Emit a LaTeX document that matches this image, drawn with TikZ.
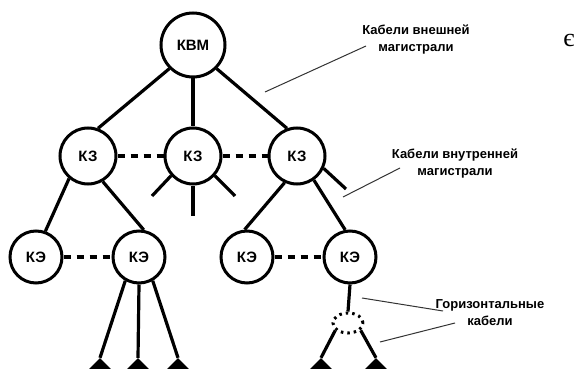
\documentclass[tikz,border=0pt]{standalone}
\usepackage{fontspec}
\setmainfont{Liberation Sans}
\newfontfamily\serifcyr{Liberation Serif}
\usetikzlibrary{shapes.geometric}
\begin{document}
\begin{tikzpicture}[x=1pt,y=-1pt,
  hub/.style={circle,draw,line width=3pt,fill=white,inner sep=0pt,font=\fontsize{15}{15}\selectfont\bfseries},
  bighub/.style={hub,minimum size=64pt},
  midhub/.style={hub,minimum size=56pt},
  lowhub/.style={hub,minimum size=52pt},
  cable/.style={line width=3.2pt},
  link/.style={line width=4.5pt,dash pattern=on 7pt off 6pt},
  leader/.style={line width=1pt,black!80},
  outlet/.style={diamond,fill=black,inner sep=0pt,minimum size=28pt},
  tpoint/.style={ellipse,draw,line width=3pt,dash pattern=on 2.5pt off 4pt,minimum width=30pt,minimum height=20pt,inner sep=0pt},
  lab/.style={align=center,font=\fontsize{13}{17}\selectfont\bfseries}
]
\useasboundingbox (0,0) rectangle (579,369);
\fill[white] (0,0) rectangle (579,369);

% nodes
\node[bighub] (top) at (193,45) {КВМ};
\node[midhub] (za) at (88,156) {КЗ};
\node[midhub] (zb) at (193,156) {КЗ};
\node[midhub] (zc) at (297,156) {КЗ};
\node[lowhub] (ea) at (36,257) {КЭ};
\node[lowhub] (eb) at (139,257) {КЭ};
\node[lowhub] (ec) at (247,257) {КЭ};
\node[lowhub] (ed) at (350,257) {КЭ};
\node[tpoint] (tp) at (348,323) {};
\node[outlet] (d1) at (100,372) {};
\node[outlet] (d2) at (138,372) {};
\node[outlet] (d3) at (178,372) {};
\node[outlet] (d4) at (321,372) {};
\node[outlet] (d5) at (376,372) {};

% labels
\node[lab] (lab1) at (416,40) {Кабели внешней\\магистрали};
\node[lab] (lab2) at (455,164) {Кабели внутренней\\магистрали};
\node[lab] (lab3) at (490,313) {Горизонтальные\\кабели};
\node[font=\serifcyr\fontsize{26}{26}\selectfont] (eps) at (569,41) {є};

% backbone cables
\draw[cable] (top.-135) -- (za.70);
\draw[cable] (top.south) -- (zb.north);
\draw[cable] (top.-45) -- (zc.110);
\draw[cable] (za.-130) -- (ea.70);
\draw[cable] (za.-60) -- (eb.80);
\draw[cable] (zc.-115) -- (ec.95);
\draw[cable] (zc.-55) -- (ed.100);

% stubs
\coordinate (s1) at (152,196);
\coordinate (s2) at (193,216);
\coordinate (s3) at (235,196);
\coordinate (s4) at (346,189);
\draw[cable] (zb.-138) -- (s1);
\draw[cable] (zb.south) -- (s2);
\draw[cable] (zb.-42) -- (s3);
\draw[cable] (zc.-25) -- (s4);

% dashed links
\draw[link] (za.east) -- (zb.west);
\draw[link] (zb.east) -- (zc.west);
\draw[link] (ea.east) -- (eb.west);
\draw[link] (ec.east) -- (ed.west);

% horizontal cables
\draw[cable] (eb.-120) -- (d1.north);
\draw[cable] (eb.south) -- (d2.north);
\draw[cable] (eb.-60) -- (d3.north);
\draw[cable] (ed.south) -- (tp.north);
\draw[cable] (tp.-150) -- (d4.north);
\draw[cable] (tp.-30) -- (d5.north);

% leaders
\coordinate (l1s) at (366,46);
\coordinate (l1e) at (265,92);
\coordinate (l2s) at (400,168);
\coordinate (l2e) at (343,197);
\coordinate (l3s) at (443,311);
\coordinate (l3e) at (362,298);
\coordinate (l4s) at (455,323);
\coordinate (l4e) at (380,342);
\draw[leader] (l1s) -- (l1e);
\draw[leader] (l2s) -- (l2e);
\draw[leader] (l3s) -- (l3e);
\draw[leader] (l4s) -- (l4e);
\end{tikzpicture}
\end{document}
